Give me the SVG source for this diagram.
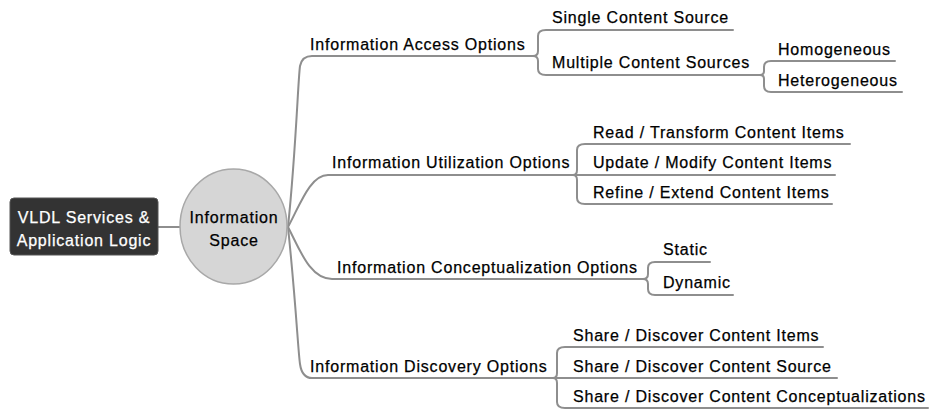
<svg xmlns="http://www.w3.org/2000/svg" width="930" height="410" viewBox="0 0 930 410">
<style>
.t{font-family:"Liberation Sans",Arial,sans-serif;font-size:16px;letter-spacing:0.8px;fill:#000;stroke:#000;stroke-width:0.25px}
.w{fill:#fff;stroke:#fff}
.c{text-anchor:middle}
.ln{fill:none;stroke:#8e8e8e;stroke-width:2;stroke-linecap:round;stroke-linejoin:round}
</style>
<rect width="930" height="410" fill="#fff"/>
<g id="connectors" class="ln">
<path d="M158,227 H181"/>
<path d="M288,227 C296,150 298,80 300,66 Q302,56 312,56 H533"/>
<path d="M288,227 C300,205 310,175 328,175 H573"/>
<path d="M288,227 C300,250 310,279 332,279 H643"/>
<path d="M288,227 C296,304 298,350 300,364 Q302,378 312,378 H553"/>
<path d="M533,56 Q538,56 538,51 L538,36 Q538,30 546,30 H733"/>
<path d="M533,56 Q538,56 538,61 L538,69 Q538,75 546,75 H760"/>
<path d="M760,75 Q764,75 764,71 L764,67 Q764,61 771,61 H895"/>
<path d="M760,75 Q764,75 764,79 L764,86 Q764,92 771,92 H902"/>
<path d="M573,175 Q577,175 577,170 L577,150 Q577,144 585,144 H850"/>
<path d="M573,175 H835"/>
<path d="M573,175 Q577,175 577,180 L577,198 Q577,204 585,204 H832"/>
<path d="M643,279 Q648,279 648,274 L648,268 Q648,262 655,262 H710"/>
<path d="M643,279 Q648,279 648,284 L648,289 Q648,295 655,295 H733"/>
<path d="M553,378 Q557,378 557,373 L557,353 Q557,347 565,347 H823"/>
<path d="M553,378 H837"/>
<path d="M553,378 Q557,378 557,383 L557,402 Q557,408 565,408 H928"/>
</g>
<g id="vldl">
<rect x="10" y="198" width="148" height="57" rx="4" fill="#333" stroke="#555" stroke-width="1"/>
<text class="t w c" x="84" y="223">VLDL Services &amp;</text>
<text class="t w c" x="84" y="246">Application Logic</text>
</g>
<g id="space">
<ellipse cx="233.5" cy="226.5" rx="53.5" ry="57.5" fill="#d6d6d6" stroke="#a8a8a8" stroke-width="1.5"/>
<text class="t c" x="234" y="223">Information</text>
<text class="t c" x="234" y="246">Space</text>
</g>
<g id="access"><text class="t" x="310" y="50">Information Access Options</text></g>
<g id="single"><text class="t" x="552" y="23">Single Content Source</text></g>
<g id="multiple"><text class="t" x="552" y="68">Multiple Content Sources</text></g>
<g id="homogeneous"><text class="t" x="778" y="55">Homogeneous</text></g>
<g id="heterogeneous"><text class="t" x="778" y="86">Heterogeneous</text></g>
<g id="utilization"><text class="t" x="332" y="168">Information Utilization Options</text></g>
<g id="read"><text class="t" x="593" y="138">Read / Transform Content Items</text></g>
<g id="update"><text class="t" x="593" y="168">Update / Modify Content Items</text></g>
<g id="refine"><text class="t" x="593" y="198">Refine / Extend Content Items</text></g>
<g id="conceptualization"><text class="t" x="337" y="273">Information Conceptualization Options</text></g>
<g id="static"><text class="t" x="663" y="255">Static</text></g>
<g id="dynamic"><text class="t" x="663" y="288">Dynamic</text></g>
<g id="discovery"><text class="t" x="310" y="372">Information Discovery Options</text></g>
<g id="share-items"><text class="t" x="573" y="341">Share / Discover Content Items</text></g>
<g id="share-source"><text class="t" x="573" y="372">Share / Discover Content Source</text></g>
<g id="share-concept"><text class="t" x="573" y="402">Share / Discover Content Conceptualizations</text></g>
</svg>
